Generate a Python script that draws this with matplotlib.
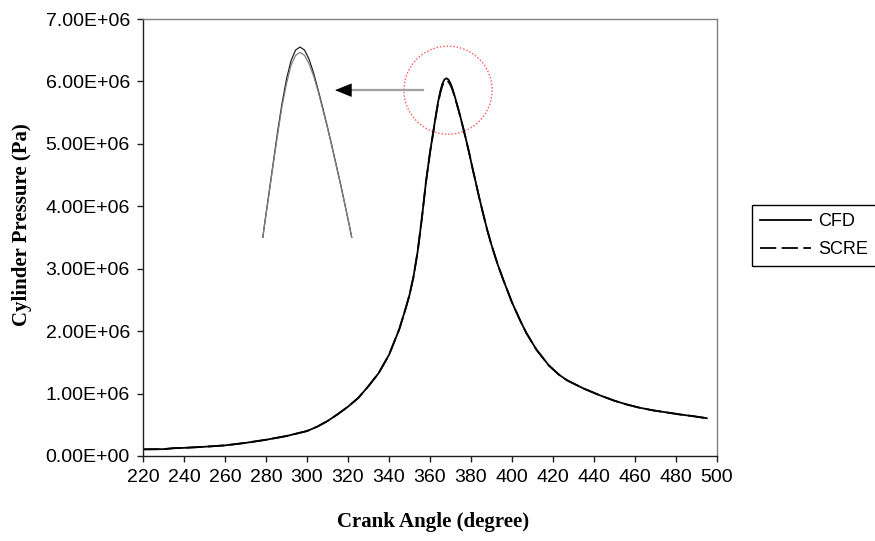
import numpy as np
import matplotlib
matplotlib.use("Agg")
import matplotlib.pyplot as plt
from matplotlib.patches import Ellipse
from matplotlib.ticker import FuncFormatter, MultipleLocator

# crank angle (degree) and cylinder pressure (1e6 Pa)
angle = [220, 230, 235, 240, 250, 260, 270, 280, 290, 300, 305, 310, 315, 320,
         325, 330, 335, 340, 345, 348, 350, 352, 354, 356, 358, 360, 361, 362,
         363, 364, 365, 366, 367, 368, 369, 370, 371, 372, 373, 374, 375, 376,
         377, 378, 379, 380, 381, 382, 384, 386, 388, 390, 393, 396, 400, 404,
         407, 412, 418, 423, 427, 435, 443, 450, 456, 462, 469, 476, 482, 489,
         495]
cfd = [0.107, 0.110, 0.125, 0.130, 0.148, 0.170, 0.210, 0.260, 0.320, 0.400,
       0.470, 0.560, 0.670, 0.790, 0.930, 1.120, 1.330, 1.620, 2.030, 2.350,
       2.580, 2.880, 3.280, 3.800, 4.380, 4.860, 5.070, 5.280, 5.490, 5.680,
       5.840, 5.960, 6.030, 6.050, 6.030, 5.970, 5.880, 5.770, 5.655, 5.535,
       5.410, 5.280, 5.150, 5.010, 4.870, 4.720, 4.570, 4.430, 4.140, 3.870,
       3.610, 3.380, 3.070, 2.800, 2.460, 2.170, 1.970, 1.700, 1.450, 1.300,
       1.210, 1.080, 0.970, 0.885, 0.825, 0.775, 0.730, 0.695, 0.665, 0.635,
       0.605]
scre = [0.107, 0.110, 0.125, 0.130, 0.148, 0.170, 0.210, 0.260, 0.320, 0.400,
        0.470, 0.560, 0.670, 0.790, 0.930, 1.120, 1.330, 1.620, 2.030, 2.350,
        2.580, 2.880, 3.280, 3.800, 4.380, 4.860, 5.060, 5.270, 5.470, 5.660,
        5.810, 5.930, 5.995, 6.015, 5.995, 5.940, 5.860, 5.760, 5.645, 5.530,
        5.405, 5.275, 5.145, 5.010, 4.870, 4.720, 4.570, 4.430, 4.140, 3.870,
        3.610, 3.380, 3.070, 2.800, 2.460, 2.170, 1.970, 1.700, 1.450, 1.300,
        1.210, 1.080, 0.970, 0.885, 0.825, 0.775, 0.730, 0.695, 0.665, 0.635,
        0.605]

x = np.array(angle)
p_cfd = np.array(cfd) * 1e6
p_scre = np.array(scre) * 1e6

W, H = 875, 541
fig = plt.figure(figsize=(W / 100, H / 100), dpi=100)
ax = fig.add_axes([143 / W, 1 - 456 / H, 574 / W, 437 / H])

ax.plot(x, p_cfd, color="black", lw=1.3, label="CFD")
ax.plot(x, p_scre, color="black", lw=1.3, dashes=(9, 3), label="SCRE")

ax.set_xlim(220, 500)
ax.set_ylim(0, 7e6)
ax.xaxis.set_major_locator(MultipleLocator(20))
ax.yaxis.set_major_locator(MultipleLocator(1e6))
ax.yaxis.set_major_formatter(FuncFormatter(lambda v, pos: f"{v:.2E}"))

for s in ["top", "right"]:
    ax.spines[s].set_color("#808080")
for s in ["left", "bottom"]:
    ax.spines[s].set_color("#202020")
for s in ax.spines.values():
    s.set_linewidth(1.0)

ax.tick_params(direction="out", length=4.5, width=1.0, pad=5,
               labelsize=14, colors="#202020", labelcolor="black")
for lab in ax.get_xticklabels() + ax.get_yticklabels():
    lab.set_family("Liberation Sans")

fig.text(22 / W, 1 - 225 / H, "Cylinder Pressure (Pa)", rotation=90,
         ha="center", va="center", family="Liberation Serif",
         weight="bold", size=15)
fig.text(433 / W, 1 - 522 / H, "Crank Angle (degree)", ha="center",
         va="center", family="Liberation Serif", weight="bold", size=15)

# red dotted circle around the peak
ax.add_patch(Ellipse((368.8, 5.86e6), 43, 1.41e6, fill=False,
                     edgecolor="#ff5050", lw=0.9, ls=(0, (1.2, 1.5))))

# arrow pointing to the magnified peak
arrow_start = (356.6, 5.86e6)
arrow_tip = (313.7, 5.86e6)
ax.plot([arrow_start[0], arrow_tip[0] + 4], [arrow_start[1], arrow_tip[1]],
        color="#a0a0a0", lw=1.6)
ax.annotate("", xy=arrow_tip, xytext=(arrow_tip[0] + 8, arrow_tip[1]),
            arrowprops=dict(arrowstyle="-|>,head_length=1.1,head_width=0.45",
                            color="black", lw=0.5, shrinkA=0, shrinkB=0))

# magnified view of the peak
ins = fig.add_axes([240 / W, 1 - 238 / H, 135 / W, 198 / H])
ins.plot(x, p_cfd, color="#202020", lw=0.9)
ins.plot(x, p_scre, color="#808080", lw=0.9)
ins.set_xlim(354.7, 384.6)
ins.set_ylim(4.8e6, 6.096e6)
ins.axis("off")

fig.legend(loc="upper left", bbox_to_anchor=(752 / W, 1 - 205 / H),
           prop={"family": "Liberation Sans", "size": 13},
           frameon=True, fancybox=False, edgecolor="black", framealpha=1,
           handlelength=2.8, handletextpad=0.4, borderpad=0.45,
           labelspacing=0.6, borderaxespad=0)
fig.legends[0].get_frame().set_linewidth(1.0)

fig.savefig("out.png", dpi=100)
